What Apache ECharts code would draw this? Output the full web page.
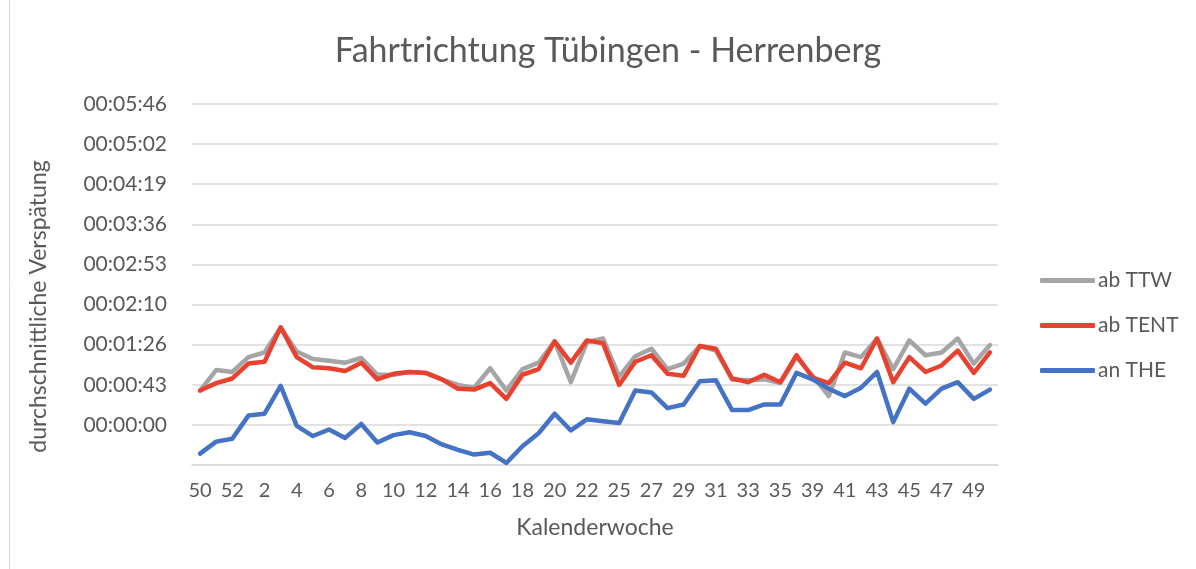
<!DOCTYPE html>
<html>
<head>
<meta charset="utf-8">
<script src="https://cdn.jsdelivr.net/npm/echarts@6/dist/echarts.min.js"></script>
<style>
  html, body { margin: 0; padding: 0; background: #fff; }
  #chart { width: 1196px; height: 569px; }
</style>
</head>
<body>
<div id="chart"></div>
<script>
  // Kalenderwochen (x-Achse)
  var weeks = ['50', '51', '52', '1', '2', '3', '4', '5', '6', '7', '8', '9', '10', '11', '12',
    '13', '14', '15', '16', '17', '18', '19', '20', '21', '22', '24', '25', '26', '27', '28',
    '29', '30', '31', '32', '33', '34', '35', '37', '39', '40', '41', '42', '43', '44', '45',
    '46', '47', '48', '49', '50']

  // durchschnittliche Verspätung in Sekunden
  var abTTW = [37, 59, 57, 73, 78, 105, 79, 71, 69, 67, 72, 54, 54, 57, 56,
    49, 43, 40, 61, 37, 60, 67, 90, 46, 89, 93, 52, 74, 82, 60,
    66, 85, 80, 49, 48, 49, 45, 73, 53, 31, 78, 73, 93, 60, 91,
    75, 78, 93, 66, 86]
  var abTENT = [37, 45, 50, 66, 68, 105, 73, 62, 61, 58, 67, 49, 55, 57, 56,
    49, 39, 38, 45, 28, 54, 60, 90, 67, 91, 88, 43, 68, 75, 55,
    53, 85, 82, 50, 46, 54, 46, 75, 51, 45, 67, 61, 93, 46, 73,
    57, 64, 80, 56, 78]
  var anTHE = [-31, -18, -15, 10, 12, 42, -1, -12, -5, -14, 1, -19, -11, -8, -12,
    -21, -27, -32, -30, -41, -23, -9, 12, -6, 6, 4, 2, 37, 35, 18,
    22, 47, 48, 16, 16, 22, 22, 56, 49, 39, 31, 40, 57, 3, 39,
    23, 39, 46, 28, 38]

  // Achsenbeschriftung (Excel-Zeitwerte: Schritt 0,0005 Tage = 43,2 s)
  var yStep = 43.2
  var yMin = -43.2
  var yMax = 345.6

  var textColor = '#595959'
  var gridColor = '#D9D9D9'
  var fontFam = 'Lato, "Open Sans", sans-serif'

  function fmtTime (v) {
    if (v < -0.01) return '' // negative Zeiten zeigt Excel nicht an
    var s = Math.round(v)
    var h = Math.floor(s / 3600)
    var m = Math.floor((s % 3600) / 60)
    var sec = s % 60
    var p = function (n) { return (n < 10 ? '0' : '') + n }
    return p(h) + ':' + p(m) + ':' + p(sec)
  }

  function lineSeries (name, data, color) {
    return {
      name: name,
      type: 'line',
      data: data,
      symbol: 'none',
      lineStyle: { color: color, width: 4.5, join: 'round', cap: 'round' },
      itemStyle: { color: color },
      animation: false
    }
  }

  var myChart = echarts.init(document.getElementById('chart'))
  myChart.setOption({
    backgroundColor: '#fff',
    title: {
      text: 'Fahrtrichtung Tübingen - Herrenberg',
      left: 603,
      textAlign: 'center',
      top: 29,
      textStyle: { color: textColor, fontSize: 34, fontWeight: 'normal', fontFamily: fontFam }
    },
    legend: {
      orient: 'vertical',
      left: 1035,
      top: 265,
      itemGap: 24,
      itemWidth: 55,
      itemHeight: 5,
      icon: 'roundRect',
      textStyle: { color: textColor, fontSize: 21, fontFamily: fontFam, padding: [0, 0, 0, -2] },
      data: ['ab TTW', 'ab TENT', 'an THE']
    },
    grid: {
      left: 192,
      right: 198,
      top: 104,
      bottom: 104
    },
    xAxis: {
      type: 'category',
      data: weeks,
      boundaryGap: true,
      name: 'Kalenderwoche',
      nameLocation: 'middle',
      nameGap: 51,
      nameTextStyle: { color: textColor, fontSize: 23, fontFamily: fontFam },
      axisLine: { show: true, onZero: false, lineStyle: { color: gridColor, width: 1.5 } },
      axisTick: { show: false },
      axisLabel: { interval: 1, color: textColor, fontSize: 20, fontFamily: fontFam, margin: 16 }
    },
    yAxis: {
      type: 'value',
      min: yMin,
      max: yMax,
      interval: yStep,
      name: 'durchschnittliche Verspätung',
      nameLocation: 'middle',
      nameGap: 142,
      nameTextStyle: { color: textColor, fontSize: 23, fontFamily: fontFam, padding: [0, 44, 0, 0] },
      axisLine: { show: false },
      axisTick: { show: false },
      splitLine: { lineStyle: { color: gridColor, width: 1.5 } },
      axisLabel: {
        color: textColor,
        fontSize: 21,
        fontFamily: fontFam,
        margin: 25,
        formatter: fmtTime
      }
    },
    graphic: [{
      type: 'line',
      shape: { x1: 9.5, y1: 0, x2: 9.5, y2: 569 },
      style: { stroke: gridColor, lineWidth: 1 }
    }],
    series: [
      lineSeries('ab TTW', abTTW, '#A5A5A5'),
      lineSeries('ab TENT', abTENT, '#E8412F'),
      lineSeries('an THE', anTHE, '#4472C4')
    ]
  })
</script>
</body>
</html>
